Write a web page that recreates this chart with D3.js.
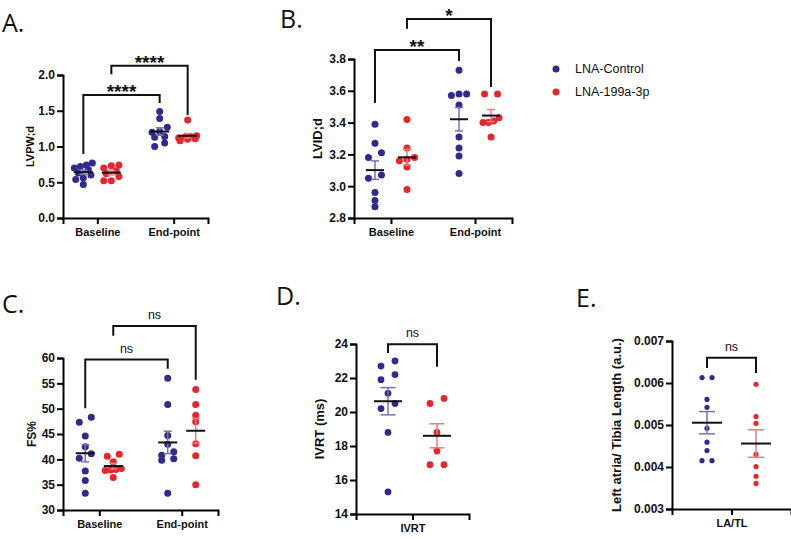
<!DOCTYPE html>
<html>
<head>
<meta charset="utf-8">
<script src="https://cdn.jsdelivr.net/npm/d3@7"></script>
<style>
  body { margin: 0; background: #fff; }
  svg { display: block; }
  .tick text { font-family: "Liberation Sans", Arial, sans-serif; font-weight: bold; }
</style>
</head>
<body>
<div id="chart"></div>
<script>
// ---- data ----
const groups = ["LNA-Control", "LNA-199a-3p"];
const timepoints = ["Baseline", "End-point"];

// A. LVPW;d
const lvpwControl = [[0.77, 0.74, 0.72, 0.70, 0.68, 0.63, 0.60, 0.56, 0.54, 0.47],
                     [1.49, 1.39, 1.27, 1.21, 1.20, 1.14, 1.13, 1.05, 1.00]];
const lvpwLna = [[0.74, 0.73, 0.70, 0.66, 0.62, 0.58, 0.52, 0.52],
                 [1.37, 1.15, 1.14, 1.13, 1.12, 1.11, 1.10, 1.08]];
const lvpwTicks = [0, 0.5, 1.0, 1.5, 2.0];

// B. LVID;d
const lvidControl = [[3.39, 3.27, 3.21, 3.18, 3.07, 3.05, 2.96, 2.91, 2.87],
                     [3.73, 3.58, 3.58, 3.57, 3.51, 3.31, 3.24, 3.19, 3.08]];
const lvidLna = [[3.42, 3.24, 3.18, 3.17, 3.16, 3.12, 2.98],
                 [3.58, 3.58, 3.43, 3.41, 3.40, 3.40, 3.31]];
const lvidTicks = [2.8, 3.0, 3.2, 3.4, 3.6, 3.8];

// C. FS%
const fsControl = [[48.3, 47.3, 44.6, 42.5, 41.1, 40.2, 37.7, 35.8, 33.3],
                   [56.0, 50.8, 44.7, 43.0, 41.5, 40.8, 40.1, 39.8, 33.3]];
const fsLna = [[41.0, 40.6, 39.5, 38.2, 38.0, 37.9, 37.8, 36.4],
               [53.8, 50.8, 48.7, 47.4, 43.1, 40.7, 35.0]];
const fsTicks = [30, 35, 40, 45, 50, 55, 60];

// D. IVRT
const ivrtControl = [23.0, 22.7, 22.2, 21.9, 21.1, 20.5, 20.2, 18.8, 15.3];
const ivrtLna = [20.8, 20.5, 18.8, 17.7, 16.9, 16.9];
const ivrtTicks = [14, 16, 18, 20, 22, 24];

// E. LA/TL
const latlControl = [0.00613, 0.00613, 0.00561, 0.00542, 0.00492, 0.00459, 0.00439, 0.00415, 0.00415];
const latlLna = [0.00597, 0.00520, 0.00504, 0.00430, 0.00401, 0.00378, 0.00361];
const latlTicks = [0.003, 0.004, 0.005, 0.006, 0.007];

// significance brackets: [cat, group] -> [cat, group], bar level, leg ends (data units)
const lvpwSig = [
  { from: [0, 0], to: [1, 0], y: 1.72, left: 0.895, right: 1.61, label: "****" },
  { from: [0, 1], to: [1, 1], y: 2.13, left: 2.01, right: 1.44, label: "****" }
];
const lvidSig = [
  { from: [0, 0], to: [1, 0], y: 3.857, left: 3.523, right: 3.787, label: "**" },
  { from: [0, 1], to: [1, 1], y: 4.052, left: 3.99, right: 3.624, label: "*" }
];
const fsSig = [
  { from: [0, 0], to: [1, 0], y: 59.7, left: 50.1, right: 57.9, label: "ns" },
  { from: [0, 1], to: [1, 1], y: 66.3, left: 64.4, right: 55.7, label: "ns" }
];
const ivrtSig = [{ from: [0, 0], to: [0, 1], y: 23.98, left: 23.47, right: 22.66, label: "ns" }];
const latlSig = [{ from: [0, 0], to: [0, 1], y: 0.0066, left: 0.00636, right: 0.00624, label: "ns" }];

const dotColor = ["#2f2b8e", "#e6262b"];
const barColor = ["#7673b5", "#ea7d7d"];
const FONT = '"Liberation Sans", Arial, sans-serif';

const W = 791, H = 539;
const svg = d3.select("#chart").append("svg").attr("width", W).attr("height", H);

// Prism-like scatter: points close in y share a row, centred on the group
function swarm(values, y, r, maxOff, pairGap, rowTol) {
  const out = new Array(values.length);
  const order = values.map((v, i) => ({ v, i, py: y(v) })).sort((a, b) => a.py - b.py);
  const rows = [];
  order.forEach(p => {
    const row = rows[rows.length - 1];
    if (row && p.py - row[0].py <= r * rowTol && row.length < 4) row.push(p);
    else rows.push([p]);
  });
  rows.forEach(row => {
    row.sort((a, b) => a.v - b.v); // lower value on the left
    const n = row.length;
    let sp = n > 1 ? Math.min(2 * r + 0.6, (2 * maxOff) / (n - 1)) : 0;
    if (n === 2) sp = pairGap;
    row.forEach((p, k) => { out[p.i] = (k - (n - 1) / 2) * sp; });
  });
  return out;
}

function panel(cfg) {
  const g = svg.append("g");
  const x = d3.scalePoint().domain(cfg.cats).range(cfg.xRange).padding(cfg.pad);
  const y = d3.scaleLinear().domain(cfg.domain).range(cfg.yRange);

  // axes
  g.append("g")
    .attr("transform", `translate(${cfg.xRange[0]},0)`)
    .call(d3.axisLeft(y).tickValues(cfg.ticks).tickSize(6).tickPadding(2).tickFormat(d3.format(cfg.fmt)))
    .call(a => a.select(".domain").attr("stroke-width", 2))
    .call(a => a.selectAll(".tick line").attr("stroke-width", 2))
    .call(a => a.selectAll(".tick text").attr("font-size", 12).attr("fill", "#111"));

  g.append("g")
    .attr("transform", `translate(0,${cfg.yRange[0]})`)
    .call(d3.axisBottom(x).tickSize(6).tickPadding(4))
    .call(a => a.select(".domain").attr("stroke-width", 2))
    .call(a => a.selectAll(".tick line").attr("stroke-width", 2))
    .call(a => a.selectAll(".tick text").attr("font-size", 11).attr("fill", "#111"));

  // y label
  g.append("text")
    .attr("transform", `translate(${cfg.labelX},${(cfg.yRange[0] + cfg.yRange[1]) / 2}) rotate(-90)`)
    .attr("text-anchor", "middle")
    .attr("font-family", FONT).attr("font-weight", "bold").attr("font-size", cfg.labelSize)
    .attr("fill", "#111")
    .text(cfg.ylabel);

  // panel letter
  g.append("text")
    .attr("x", cfg.letterPos[0]).attr("y", cfg.letterPos[1])
    .attr("font-family", '"Open Sans", "Noto Sans", sans-serif').attr("font-size", 25)
    .attr("fill", "#111")
    .text(cfg.letter);

  const gx = (ci, gi) => x(cfg.cats[ci]) + (gi === 0 ? -cfg.off : cfg.off);

  cfg.series.forEach((perCat, gi) => {
    perCat.forEach((vals, ci) => {
      const cx = gx(ci, gi);
      const mean = d3.mean(vals);
      const sem = d3.deviation(vals) / Math.sqrt(vals.length);
      const offs = swarm(vals, y, cfg.r, cfg.spread, cfg.pairGap, cfg.rowTol || 1.5);

      g.selectAll(null).data(vals).join("circle")
        .attr("cx", (d, i) => cx + offs[i])
        .attr("cy", d => y(d))
        .attr("r", cfg.r)
        .attr("fill", dotColor[gi]);

      // SEM bar
      const eb = g.append("g").attr("stroke", barColor[gi]).attr("stroke-width", 1.5).attr("fill", "none");
      eb.append("line").attr("x1", cx).attr("x2", cx).attr("y1", y(mean - sem)).attr("y2", y(mean + sem));
      [mean - sem, mean + sem].forEach(v => {
        eb.append("line").attr("x1", cx - cfg.cap).attr("x2", cx + cfg.cap).attr("y1", y(v)).attr("y2", y(v));
      });
      g.append("line")
        .attr("x1", cx - cfg.meanW).attr("x2", cx + cfg.meanW)
        .attr("y1", y(mean)).attr("y2", y(mean))
        .attr("stroke", "#111").attr("stroke-width", 2);
    });
  });

  // significance brackets
  cfg.sig.forEach(s => {
    const x1 = gx(s.from[0], s.from[1]);
    const x2 = gx(s.to[0], s.to[1]);
    const yb = y(s.y);
    g.append("path")
      .attr("d", `M${x1},${y(s.left)}V${yb}H${x2}V${y(s.right)}`)
      .attr("fill", "none").attr("stroke", "#111").attr("stroke-width", 2);
    const stars = s.label !== "ns";
    g.append("text")
      .attr("x", (x1 + x2) / 2)
      .attr("y", stars ? yb + 3 : yb - 7)
      .attr("text-anchor", "middle")
      .attr("font-family", FONT)
      .attr("font-weight", stars ? "bold" : "normal")
      .attr("font-size", stars ? 19 : 12.5)
      .attr("fill", "#111")
      .text(s.label);
  });
}

panel({
  letter: "A.", letterPos: [2, 32],
  cats: timepoints, xRange: [63, 208], pad: 0.45, yRange: [218, 75], domain: [0, 2],
  ticks: lvpwTicks, fmt: ".1f", ylabel: "LVPW;d", labelX: 34, labelSize: 11,
  series: [lvpwControl, lvpwLna], off: 14, r: 3.5, spread: 9, pairGap: 10, cap: 4, meanW: 9.5, sig: lvpwSig
});

panel({
  letter: "B.", letterPos: [280, 28],
  cats: timepoints, xRange: [354, 512], pad: 0.44, yRange: [218, 59], domain: [2.8, 3.8],
  ticks: lvidTicks, fmt: ".1f", ylabel: "LVID;d", labelX: 322, labelSize: 13,
  series: [lvidControl, lvidLna], off: 16, r: 3.5, spread: 8, pairGap: 13, cap: 4, meanW: 9, sig: lvidSig
});

panel({
  letter: "C.", letterPos: [2, 313],
  cats: timepoints, xRange: [63, 218], pad: 0.44, yRange: [510, 358], domain: [30, 60],
  ticks: fsTicks, fmt: "d", ylabel: "FS%", labelX: 36, labelSize: 12,
  series: [fsControl, fsLna], off: 14, r: 3.5, spread: 8, pairGap: 12, cap: 4, meanW: 9.5, sig: fsSig
});

panel({
  letter: "D.", letterPos: [276, 305],
  cats: ["IVRT"], xRange: [356, 469], pad: 0.5, yRange: [514, 344], domain: [14, 24],
  ticks: ivrtTicks, fmt: "d", ylabel: "IVRT (ms)", labelX: 324, labelSize: 13,
  series: [[ivrtControl], [ivrtLna]], off: 24.5, r: 3.4, spread: 8, pairGap: 14, rowTol: 1.8,
  cap: 7.5, meanW: 14, sig: ivrtSig
});

panel({
  letter: "E.", letterPos: [576, 307],
  cats: ["LA/TL"], xRange: [672, 791], pad: 0.5, yRange: [509, 341], domain: [0.003, 0.007],
  ticks: latlTicks, fmt: ".3f", ylabel: "Left atria/ Tibia Length (a.u.)", labelX: 621, labelSize: 13,
  series: [[latlControl], [latlLna]], off: 24.5, r: 2.6, spread: 6, pairGap: 10, cap: 8, meanW: 15, sig: latlSig
});

// legend
const legend = svg.append("g");
groups.forEach((name, i) => {
  legend.append("circle").attr("cx", 556).attr("cy", 69 + i * 23).attr("r", 3.5).attr("fill", dotColor[i]);
  legend.append("text").attr("x", 575).attr("y", 69 + i * 23).attr("dy", "0.35em")
    .attr("font-family", FONT).attr("font-size", 12.5).attr("fill", "#111").text(name);
});
</script>
</body>
</html>
